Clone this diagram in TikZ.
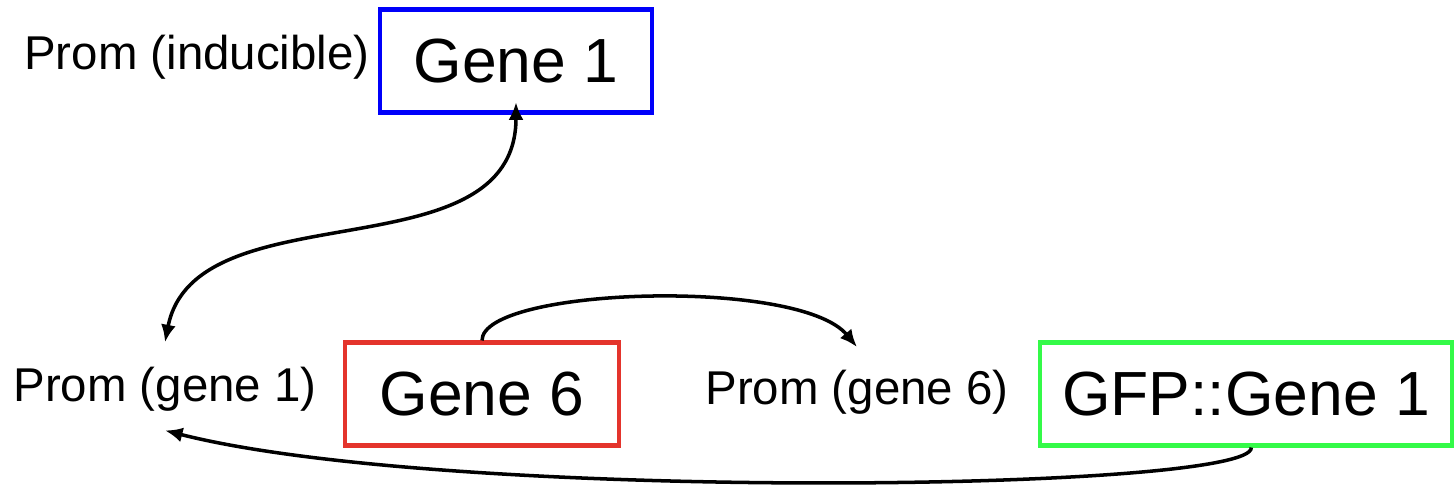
\documentclass[tikz,border=0pt]{standalone}
\usepackage{fontspec}
\setmainfont{Liberation Sans}
\usetikzlibrary{arrows.meta}
\definecolor{geneblue}{RGB}{0,0,250}
\definecolor{genered}{RGB}{228,52,44}
\definecolor{genegreen}{RGB}{52,250,72}

\begin{document}
\begin{tikzpicture}[x=0.02cm,y=-0.02cm,>={Latex[length=10pt,width=8.5pt]},
		line width=2pt,
		gene node/.style={draw,line width=2.3pt,minimum height=2.06cm,inner sep=0pt,
			font=\fontsize{35.5}{40}\selectfont},
		prom node/.style={inner sep=2pt,font=\fontsize{27}{31}\selectfont}]
		\useasboundingbox (0,0) rectangle (1456,494);
		% promoters
		\node[prom node] (pi) at (197,57) {Prom (inducible)};
		\node[prom node] (p1) at (165,389) {Prom (gene 1)};
		\node[prom node] (p6) at (857,392) {Prom (gene 6)};
		% genes
		\node[gene node,draw=geneblue,minimum width=5.44cm] (g1) at (516,61) {Gene 1};
		\node[gene node,draw=genered,minimum width=5.48cm] (g6) at (482,394) {Gene 6};
		\node[gene node,draw=genegreen,minimum width=8.24cm] (gfp) at (1246,394) {GFP::Gene 1};
		% regulation
		\draw[<->] ([yshift=7pt]g1.south) .. controls +(0,175) and +(30,-155) .. ([yshift=11pt]p1.north);
		\draw[->] (g6.north) .. controls +(0,-53) and +(-58,-70) .. ([yshift=10pt]p6.north);
		\draw[->] ([xshift=3pt]gfp.south) .. controls +(3,44) and +(282,72) .. ([yshift=-8pt]p1.south);
\end{tikzpicture}
\end{document}
